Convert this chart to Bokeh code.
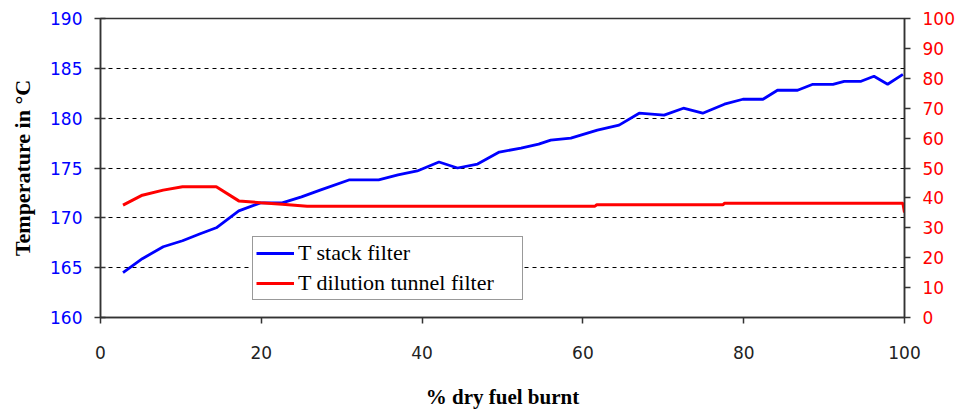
from bokeh.plotting import figure
from bokeh.models import Range1d, LinearAxis, FixedTicker, Legend, LegendItem
from bokeh.embed import file_html
from bokeh.resources import INLINE

# % dry fuel burnt vs stack filter temperature (left axis, °C)
stack_x = [2.8, 5.2, 7.8, 10.2, 12.4, 14.4, 17.2, 19.9, 22.6, 25.0, 27.4, 30.9, 34.6, 37.0,
           39.4, 42.1, 44.4, 46.9, 49.6, 52.3, 54.5, 56.0, 58.5, 61.8, 64.5, 67.0, 70.1,
           72.5, 74.9, 77.6, 79.9, 82.4, 84.2, 86.7, 88.6, 91.1, 92.5, 94.6, 96.2, 97.9, 99.8]
stack_t = [164.5, 165.9, 167.1, 167.7, 168.4, 169.0, 170.7, 171.5, 171.5, 172.1, 172.8, 173.8,
           173.8, 174.3, 174.7, 175.6, 175.0, 175.4, 176.6, 177.0, 177.4, 177.8, 178.0, 178.8,
           179.3, 180.5, 180.3, 181.0, 180.5, 181.4, 181.9, 181.9, 182.8, 182.8, 183.4, 183.4,
           183.7, 183.7, 184.2, 183.4, 184.4]

# dilution tunnel filter temperature (right axis)
tunnel_x = [2.8, 5.2, 7.8, 10.2, 14.4, 17.2, 19.9, 22.6, 25.7, 61.5, 61.7, 77.4, 77.6, 99.8, 100.0]
tunnel_t = [37.6, 40.9, 42.6, 43.7, 43.7, 39.0, 38.4, 37.9, 37.2, 37.2, 37.7, 37.7, 38.2, 38.2, 35.1]

x_ticks = [0, 20, 40, 60, 80, 100]
left_ticks = [160, 165, 170, 175, 180, 185, 190]
grid_ticks = [165, 170, 175, 180, 185]
right_ticks = [0, 10, 20, 30, 40, 50, 60, 70, 80, 90, 100]

AX = "#333333"
SERIF = "Liberation Serif"
SANS = "DejaVu Sans"

p = figure(width=961, height=414, output_backend="svg", toolbar_location=None,
           x_range=Range1d(0, 100), y_range=Range1d(160, 190),
           min_border_left=100, min_border_right=57, min_border_top=18, min_border_bottom=97,
           background_fill_color="white", border_fill_color="white")
p.extra_y_ranges = {"right": Range1d(0, 100)}

p.outline_line_color = AX
p.outline_line_width = 1.5

p.xgrid.visible = False
p.ygrid.ticker = FixedTicker(ticks=grid_ticks)
p.ygrid.grid_line_color = "black"
p.ygrid.grid_line_dash = "4 4"
p.ygrid.grid_line_width = 1

# x axis
xa = p.xaxis[0]
xa.ticker = FixedTicker(ticks=x_ticks)
xa.axis_label = "% dry fuel burnt"
xa.axis_label_text_font = SERIF
xa.axis_label_text_font_style = "bold"
xa.axis_label_text_font_size = "21px"
xa.axis_label_text_color = "black"
xa.axis_label_standoff = 23
xa.major_label_text_font = SANS
xa.major_label_text_font_size = "17px"
xa.major_label_text_color = "#222222"
xa.major_label_standoff = 22
xa.major_tick_in = 0
xa.major_tick_out = 6
xa.minor_tick_line_color = None
xa.axis_line_color = AX
xa.axis_line_width = 1.5
xa.major_tick_line_color = AX
xa.major_tick_line_width = 1.5

# left axis
ya = p.yaxis[0]
ya.ticker = FixedTicker(ticks=left_ticks)
ya.axis_label = "Temperature in °C"
ya.axis_label_text_font = SERIF
ya.axis_label_text_font_style = "bold"
ya.axis_label_text_font_size = "22px"
ya.axis_label_text_color = "black"
ya.axis_label_standoff = 12
ya.major_label_text_font = SANS
ya.major_label_text_font_size = "17px"
ya.major_label_text_color = "#0000FF"
ya.major_label_standoff = 12
ya.major_tick_in = 5
ya.major_tick_out = 6
ya.minor_tick_line_color = None
ya.axis_line_color = AX
ya.axis_line_width = 1.5
ya.major_tick_line_color = AX
ya.major_tick_line_width = 1.5

# right axis
ra = LinearAxis(y_range_name="right", ticker=FixedTicker(ticks=right_ticks))
ra.major_label_text_font = SANS
ra.major_label_text_font_size = "17px"
ra.major_label_text_color = "#FF0000"
ra.major_label_standoff = 12
ra.major_tick_in = 0
ra.major_tick_out = 6
ra.minor_tick_line_color = None
ra.axis_line_color = AX
ra.axis_line_width = 1.5
ra.major_tick_line_color = AX
ra.major_tick_line_width = 1.5
p.add_layout(ra, "right")

l1 = p.line(stack_x, stack_t, line_color="#0000FF", line_width=2.8)
l2 = p.line(tunnel_x, tunnel_t, y_range_name="right", line_color="#FF0000", line_width=3)

legend = Legend(items=[LegendItem(label="T stack filter", renderers=[l1]),
                       LegendItem(label="T dilution tunnel filter", renderers=[l2])],
                location=(152, 17))
legend.label_text_font = SERIF
legend.label_text_font_size = "22px"
legend.label_text_color = "black"
legend.glyph_width = 38
legend.glyph_height = 24
legend.label_height = 24
legend.label_width = 221
legend.label_standoff = 4
legend.spacing = 4
legend.padding = 3
legend.margin = 0
legend.border_line_color = AX
legend.border_line_width = 1.5
legend.background_fill_color = "white"
legend.background_fill_alpha = 1.0
p.add_layout(legend)

open("out.html", "w").write(file_html(p, INLINE))
